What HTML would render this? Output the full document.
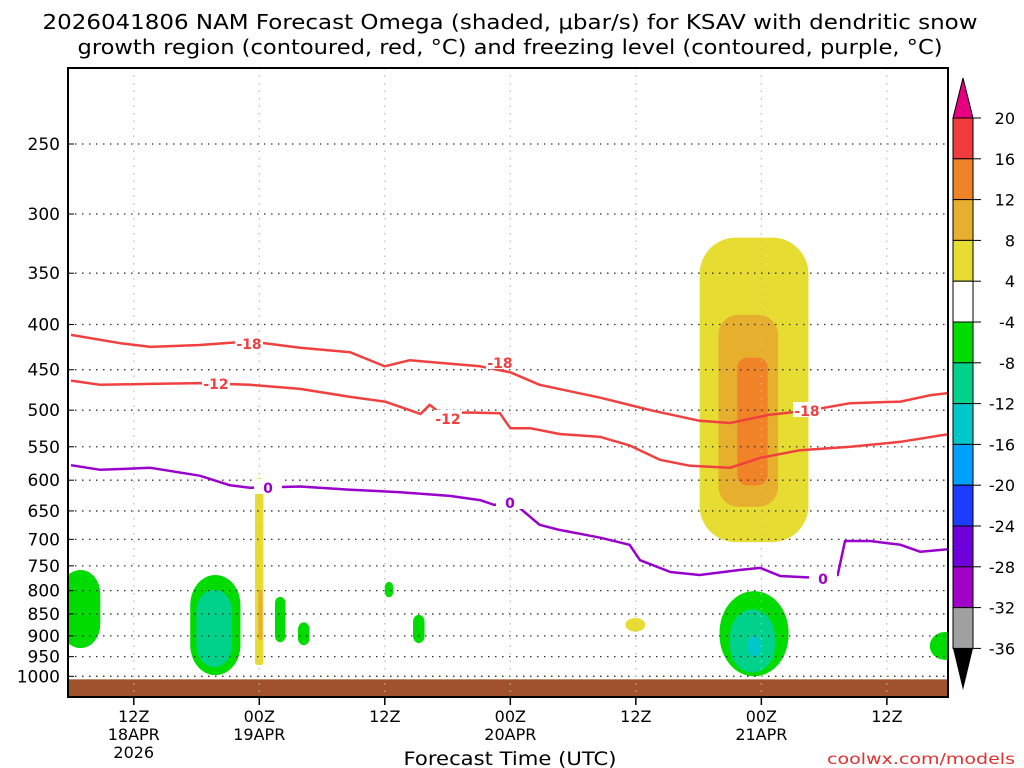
<!DOCTYPE html>
<html><head><meta charset="utf-8"><style>
body{margin:0;background:#fff;}
svg{display:block;font-family:"DejaVu Sans","Liberation Sans",sans-serif;}
</style></head><body>
<svg id="c" width="1024" height="768" viewBox="0 0 1024 768">
<text x="510" y="29" font-size="20" text-anchor="middle" textLength="935" lengthAdjust="spacingAndGlyphs">2026041806 NAM Forecast Omega (shaded, μbar/s) for KSAV with dendritic snow</text>
<text x="510" y="54" font-size="20" text-anchor="middle" textLength="865" lengthAdjust="spacingAndGlyphs">growth region (contoured, red, °C) and freezing level (contoured, purple, °C)</text>
<g id="plot"></g>
<text x="510" y="765" font-size="19" text-anchor="middle" textLength="213" lengthAdjust="spacingAndGlyphs">Forecast Time (UTC)</text>
<text x="1015" y="764" font-size="15" fill="#e03030" text-anchor="end" textLength="188" lengthAdjust="spacingAndGlyphs">coolwx.com/models</text>
</svg>
<script>
// ---- data ----
const pLevels=[250,300,350,400,450,500,550,600,650,700,750,800,850,900,950,1000];
const timeTicksH=[6,18,30,42,54,66,78];
const timeTickLabels=[["12Z","18APR","2026"],["00Z","19APR"],["12Z"],["00Z","20APR"],["12Z"],["00Z","21APR"],["12Z"]];
const m18Hours=[0,4.7,7.6,12.3,17.1,21.9,26.7,30,32.4,34.3,39.1,42,44.8,50.6,55.4,60.1,63,66.8,70.7,74.5,79.3,82.1,84];
const m18Press=[411,420,424,422,418,425,430,446,439,441,446,453,468,484,500,514,517,506,500,491,489,481,478];
const m12Hours=[0,2.8,7.6,12.3,17.1,21.9,26.7,30,32.4,33.4,34.3,35.3,38.1,41,42,43.9,46.7,50.6,53.4,56.3,59.2,63,65.9,69.7,74.5,79.3,84];
const m12Press=[463,468,467,466,468,473,483,489,500,505,493,504,503,504,524,524,532,536,548,569,578,581,566,555,550,543,532];
const zHours=[0,2.8,7.6,12.3,15.2,17.1,21.9,26.7,31.5,36.2,39.1,40.5,42,42.9,44.8,46.7,50.6,53.4,54.4,57.3,60.1,64,65.9,67.8,71.6,73.3,74,76.4,79.3,81.2,84];
const zPress=[577,584,581,593,608,612,610,615,619,625,632,640,632,645,674,683,697,710,739,762,768,758,754,770,774,768,703,703,710,723,718];
// omega blobs: [hourStart, hourEnd, pTop, pBottom, level]
const blobH0=[60.1,61.9,63.7,-1,11.4,12.0,17.6,17.9,19.5,21.7,30,32.7,53,62,63,64.7,82.1];
const blobH1=[70.5,67.6,66.6,2.8,16.2,15.4,18.4,18.3,20.5,22.8,30.8,33.8,54.9,68.6,67.3,66,85];
const blobPt=[319,390,436,758,768,798,597,798,813,869,782,852,859,801,840,900,891];
const blobPb=[705,643,608,929,997,976,971,910,915,922,814,917,890,1000,990,950,958];
const blobLv=[4,8,12,-4,-4,-8,4,8,-4,-4,-4,-4,4,-4,-8,-12,-4];
const cbLevels=[20,16,12,8,4,-4,-8,-12,-16,-20,-24,-28,-32,-36];
const cbColors=["#f03c3c","#f08228","#e6af2d","#e6dc32","#ffffff","#00dc00","#00d28c","#00c8c8","#00a0ff","#1e3cff","#6e00dc","#a000c8","#a0a0a0"];
const levelColor={4:"#e6dc32",8:"#e6af2d",12:"#f08228",16:"#f03c3c","-4":"#00dc00","-8":"#00d28c","-12":"#00c8c8"};
// ---- axes ----
const X0=68,X1=948,Y0=68,Y1=697;
const xs=h=>71+h*10.46;
const ys=p=>144+384*Math.log(p/250);
const NS="http://www.w3.org/2000/svg";
const g=document.getElementById('plot');
function mk(t,a,parent){const e=document.createElementNS(NS,t);for(const k in a)e.setAttribute(k,a[k]);(parent||g).appendChild(e);return e;}
const clip=mk('clipPath',{id:'pc'});mk('rect',{x:X0,y:Y0,width:X1-X0,height:Y1-Y0},clip);
const inner=mk('g',{'clip-path':'url(#pc)'});


// blobs
for(let i=0;i<blobH0.length;i++){
  const x0=xs(blobH0[i]),x1=xs(blobH1[i]),y0=ys(blobPt[i]),y1=ys(blobPb[i]);
  const w=x1-x0,h=y1-y0;
  const big=h>120;
  const r=mk('rect',{x:x0,y:y0,width:w,height:h,rx:big?w/3:w/2,ry:big?w/3:Math.min(w/2,h/2)*1.2,fill:levelColor[blobLv[i]]},inner);
  
  
}
// ground
const gr=mk('rect',{x:X0,y:ys(1000)+3,width:X1-X0,height:Y1-ys(1000),fill:'#a0522d'},inner);


// grid
pLevels.forEach(p=>{const l=mk('line',{x1:X0,x2:X1,y1:ys(p),y2:ys(p),stroke:'#333','stroke-width':1.3,'stroke-dasharray':'1.5 5.5'},inner);

});
timeTicksH.forEach(h=>{const l=mk('line',{x1:xs(h),x2:xs(h),y1:Y0,y2:Y1,stroke:'#bbb','stroke-width':1.2,'stroke-dasharray':'1.5 6'},inner);

});
// lines
function line(H,P,col,name){const d=H.map((h,i)=>(i?'L':'M')+xs(h).toFixed(1)+' '+ys(P[i]).toFixed(1)).join('');
const e=mk('path',{d:d,fill:'none',stroke:col,'stroke-width':2.5,'stroke-linejoin':'round'},inner);

}
line(m18Hours,m18Press,'#f04040','minus18-isotherm');
line(m12Hours,m12Press,'#f04040','minus12-isotherm');
line(zHours,zPress,'#9900cc','freezing-level');
function lab(x,y,t,col){mk('rect',{x:x-14,y:y-8,width:28,height:15,fill:'#fff'},inner);
const e=mk('text',{x:x,y:y+6,'font-size':14,'font-weight':'bold',fill:col,'text-anchor':'middle'},inner);e.textContent=t;

}
lab(249,343,'-18','#f04040');lab(500,362,'-18','#f04040');lab(807,410,'-18','#f04040');
lab(216,383,'-12','#f04040');lab(448,418,'-12','#f04040');
lab(268,487,'0','#9900cc');lab(510,502,'0','#9900cc');lab(823,578,'0','#9900cc');
// frame
const fr=mk('rect',{x:X0,y:Y0,width:X1-X0,height:Y1-Y0,fill:'none',stroke:'#000','stroke-width':2});


pLevels.forEach(p=>{const t=mk('text',{x:60,y:ys(p)+6,'font-size':17,'text-anchor':'end'});t.textContent=p;


mk('line',{x1:X0,x2:X0+6,y1:ys(p),y2:ys(p),stroke:'#000'});});
timeTicksH.forEach((h,i)=>{mk('line',{x1:xs(h),x2:xs(h),y1:Y1,y2:Y1+8,stroke:'#000','stroke-width':1.5});
timeTickLabels[i].forEach((s,j)=>{const t=mk('text',{x:xs(h),y:722+j*18,'font-size':16,'text-anchor':'middle'});t.textContent=s;

});});
// colorbar
const cb=mk('g',{});


const CX=953,CW=20;
const cyi=i=>118+i*40.8;
mk('polygon',{points:`${CX},${cyi(0)} ${CX+CW},${cyi(0)} ${CX+CW/2},78`,fill:'#e6007f',stroke:'#000'},cb);
for(let i=0;i<cbColors.length;i++){mk('rect',{x:CX,y:cyi(i),width:CW,height:40.8,fill:cbColors[i],stroke:'#000','stroke-width':1},cb);}
mk('polygon',{points:`${CX},${cyi(13)} ${CX+CW},${cyi(13)} ${CX+CW/2},690`,fill:'#000'},cb);
cbLevels.forEach((l,i)=>{mk('line',{x1:CX+CW,x2:CX+CW+8,y1:cyi(i),y2:cyi(i),stroke:'#000'},cb);
const t=mk('text',{x:1015,y:cyi(i)+6,'font-size':16,'text-anchor':'end'},cb);t.textContent=l;

});
</script>
</body></html>
